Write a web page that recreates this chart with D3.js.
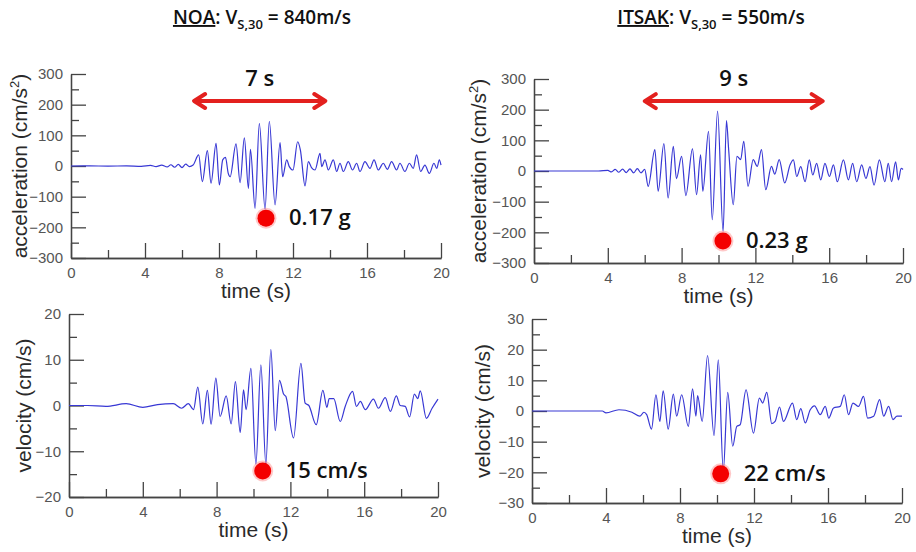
<!DOCTYPE html>
<html>
<head>
<meta charset="utf-8">
<script src="https://cdn.jsdelivr.net/npm/d3@7"></script>
<style>
  body { margin: 0; background: #fff; }
  svg { display: block; }
</style>
</head>
<body>
<div id="svgContainer"></div>
<script>
// time ticks shared by all panels
var timeTicks = [0, 4, 8, 12, 16, 20]
var timeMinor = [2, 6, 10, 14, 18]
var accTicks = [-300, -200, -100, 0, 100, 200, 300]
var accMinor = [-250, -150, -50, 50, 150, 250]
var noaVelTicks = [-20, -10, 0, 10, 20]
var noaVelMinor = [-15, -5, 5, 15]
var itsakVelTicks = [-30, -20, -10, 0, 10, 20, 30]
var itsakVelMinor = [-25, -15, -5, 5, 15, 25]

// [time (s), value]
var noaAcc = [[0,0],[1,0.5],[2,-0.5],[3,0.5],[3.8,-1],[4.3,2],[4.6,-2],[4.9,3],[5.2,-3],[5.4,4],[5.6,-4],[5.8,5],[6.0,-5],[6.2,6],[6.4,-2],[6.6,3],
  [6.9,36],[7.1,-51],[7.37,50],[7.57,-56],[7.84,74],[8.02,-62],[8.2,20],[8.35,28],[8.5,-24],[8.6,-35],[8.92,72],[9.14,-54],[9.37,92],[9.59,-73],
  [9.7,54],[9.95,-138],[10.18,139],[10.49,-141],[10.72,146],[11.03,-127],[11.3,76],[11.44,-35],[11.66,20],[11.8,-2],[12.0,-13],[12.25,79],[12.4,52],
  [12.65,-65],[12.83,14],[13.0,-5],[13.19,-13],[13.46,41],[13.55,-2],[13.73,20],[13.91,-13],[14.18,20],[14.36,-18],[14.54,9],[14.72,-18],[14.99,14],
  [15.22,-13],[15.44,9],[15.62,-18],[15.89,14],[16.16,-8],[16.38,20],[16.61,-13],[16.88,9],[17.1,-11],[17.33,14],[17.6,-13],[17.78,9],[18.05,-18],
  [18.29,9],[18.5,-8],[18.68,36],[18.9,-18],[19.13,3],[19.37,-24],[19.62,9],[19.77,-8],[19.91,20],[20,3]]

var itsakAcc = [[0,0],[2,0],[3.5,0],[4,2],[4.2,-3],[4.4,5],[4.6,-4],[4.8,6],[5.0,-5],[5.2,7],[5.4,-6],[5.6,8],[5.8,-6],[6.0,5],
  [6.19,-50],[6.55,70],[6.73,-66],[7.04,89],[7.27,-88],[7.55,80],[7.72,-25],[8.0,48],[8.23,-80],[8.59,72],[8.81,-77],[9.03,53],[9.15,-66],
  [9.46,129],[9.66,-159],[9.95,195],[10.25,-197],[10.43,164],[10.55,70],[10.8,-110],[11.0,48],[11.2,37],[11.37,97],[11.6,-50],[11.88,37],
  [12.1,15],[12.33,70],[12.56,-61],[12.87,15],[13.05,-10],[13.29,37],[13.59,-39],[13.88,20],[14.06,36],[14.24,-18],[14.46,14],[14.69,-35],
  [14.92,36],[15.11,-13],[15.32,25],[15.54,-29],[15.77,25],[16.01,-18],[16.23,20],[16.44,-35],[16.77,36],[17.04,-29],[17.27,25],[17.49,-35],
  [17.76,20],[17.99,-24],[18.21,14],[18.43,-46],[18.72,36],[19.02,-35],[19.2,25],[19.38,-35],[19.6,30],[19.75,-29],[19.9,9],[20,5]]

var noaVel = [[0,0],[1,0],[2,-0.2],[3.1,0.4],[4.0,-0.4],[4.8,0.2],[5.65,0.4],[6.1,-0.6],[6.47,0.4],[6.75,-0.9],[6.98,4.0],[7.25,-4.0],
  [7.5,3.3],[7.7,-4.1],[7.96,6.0],[8.19,-2.4],[8.52,2.1],[8.79,-4.0],[9.02,5.2],[9.28,-5.9],[9.46,3.4],[9.6,-0.9],[9.86,8.1],[10.13,-12.8],
  [10.4,8.9],[10.67,-12.8],[10.94,12.3],[11.18,-5.5],[11.41,5.5],[11.63,2.5],[11.75,2.0],[12.17,-7.1],[12.57,9.2],[12.8,0.5],[13.0,0],
  [13.4,-4.2],[13.76,3.3],[13.98,-0.4],[14.1,1.5],[14.35,1.5],[14.7,-3.5],[14.97,-0.2],[15.37,3.1],[15.58,-0.2],[15.79,0.9],[16.06,-0.9],
  [16.5,1.4],[16.77,-0.6],[17.14,1.7],[17.42,-1.3],[17.74,2.1],[17.95,0],[18.22,-0.2],[18.46,-2.5],[18.72,2.5],[18.9,1.5],[19.04,3.2],
  [19.37,-2.8],[19.68,-0.6],[20,1.4]]

var itsakVel = [[0,0],[2,0],[3.8,0],[4.0,-0.6],[4.7,0.4],[5.4,-0.4],[5.83,-1.7],[6.05,-0.4],[6.2,-1.2],[6.46,-5.9],[6.7,5.3],[6.91,-3.4],
  [7.09,6.6],[7.36,-5.9],[7.64,5.5],[7.82,-1.7],[8.09,5.3],[8.45,-5.0],[8.68,7.2],[8.86,-1.7],[8.95,5.0],[9.2,-3.4],[9.49,18.1],[9.84,-8.0],
  [10.07,16.7],[10.34,-19.5],[10.58,6.1],[10.85,-11.5],[11.07,-5],[11.25,-4.5],[11.57,6.9],[11.97,-7.2],[12.29,4.2],[12.47,2.6],[12.69,6.1],
  [12.96,-4.1],[13.14,-3.4],[13.38,1.3],[13.59,-3.4],[14.08,2.6],[14.31,-2.8],[14.53,0.8],[14.77,-3.9],[15.04,0.4],[15.27,1.7],[15.58,-1.2],
  [15.85,1.5],[16.04,-2.3],[16.3,1],[16.66,1.5],[16.88,5.3],[17.11,-1.2],[17.35,2.6],[17.65,1.5],[17.92,4.8],[18.14,-2.3],[18.47,-1.7],
  [18.79,3.7],[19.01,-1.7],[19.28,1.5],[19.51,-2.8],[19.73,-1.7],[20,-1.7]]

// annotations: duration arrows [from, to, level] and peak markers [time, value]
var noaDuration = [6.6, 13.8, 212], noaDurationLabel = "7 s"
var itsakDuration = [5.95, 15.7, 228], itsakDurationLabel = "9 s"
var noaAccPeak = [10.54, -170], noaAccLabel = "0.17 g"
var itsakAccPeak = [10.24, -228], itsakAccLabel = "0.23 g"
var noaVelPeak = [10.5, -14.3], noaVelLabel = "15 cm/s"
var itsakVelPeak = [10.2, -20.5], itsakVelLabel = "22 cm/s"

var width = 916, height = 552
var svg = d3.select("#svgContainer").append("svg")
    .attr("width", width).attr("height", height)
    .style("font-family", "'Liberation Sans', Arial, sans-serif")

function title(cx, station, vs) {
    var t = svg.append("text")
        .attr("x", cx).attr("y", 24)
        .attr("text-anchor", "middle")
        .style("font-family", "'Open Sans', sans-serif")
        .style("font-size", "19px")
        .style("font-weight", 600)
        .style("fill", "#111")
    t.append("tspan").style("text-decoration", "underline").text(station)
    t.append("tspan").text(": V")
    t.append("tspan").attr("dy", 5).style("font-size", "13px").text("S,30")
    t.append("tspan").attr("dy", -5).text(" = " + vs)
}
title(262, "NOA", "840m/s")
title(711, "ITSAK", "550m/s")

function panel(cfg) {
    var x = d3.scaleLinear().domain([0, 20]).range([cfg.x0, cfg.x1])
    var y = d3.scaleLinear().domain(cfg.domain).range([cfg.y1, cfg.y0])
    var g = svg.append("g")

    // minor ticks
    g.append("g").attr("transform", `translate(${cfg.x0},0)`)
        .call(d3.axisLeft(y).tickValues(cfg.minor).tickSize(-8).tickSizeOuter(0).tickFormat(""))
    g.append("g").attr("transform", `translate(0,${cfg.y1})`)
        .call(d3.axisBottom(x).tickValues(timeMinor).tickSize(-8).tickSizeOuter(0).tickFormat(""))
    // major ticks + labels
    g.append("g").attr("transform", `translate(${cfg.x0},0)`)
        .call(d3.axisLeft(y).tickValues(cfg.ticks).tickSize(-15).tickSizeOuter(0).tickPadding(8))
    g.append("g").attr("transform", `translate(0,${cfg.y1})`)
        .call(d3.axisBottom(x).tickValues(timeTicks).tickSize(-15).tickSizeOuter(0).tickPadding(9))
    g.selectAll(".domain, .tick line").attr("stroke", "#444").attr("stroke-width", 1.3)
    g.selectAll(".tick text").style("font-size", "15px").style("fill", "#555")
        .style("font-family", "'Liberation Sans', Arial, sans-serif")

    // axis titles
    var yl = g.append("text")
        .attr("transform", `translate(${cfg.x0 - cfg.ylabelGap},${(cfg.y0 + cfg.y1) / 2}) rotate(-90)`)
        .attr("text-anchor", "middle")
        .style("font-size", "21px").style("fill", "#2a2a2a")
    yl.append("tspan").text(cfg.ylabel)
    if (cfg.sup) {
        yl.append("tspan").attr("dy", -8).style("font-size", "13px").text(cfg.sup)
        yl.append("tspan").attr("dy", 8).text(")")
    }
    g.append("text")
        .attr("x", (cfg.x0 + cfg.x1) / 2).attr("y", cfg.y1 + 40)
        .attr("text-anchor", "middle")
        .style("font-size", "21px").style("fill", "#2a2a2a")
        .text("time (s)")

    // record
    g.append("path")
        .datum(cfg.data)
        .attr("fill", "none")
        .attr("stroke", "#3838d4")
        .attr("stroke-width", 1.2)
        .attr("stroke-linejoin", "round")
        .attr("d", d3.line().x(d => x(d[0])).y(d => y(d[1])).curve(d3.curveMonotoneX))

    // duration arrow
    if (cfg.arrow) {
        var a = cfg.arrow, ay = y(a[2]), xl = x(a[0]), xr = x(a[1])
        g.append("line").attr("x1", xl + 2).attr("x2", xr - 2).attr("y1", ay).attr("y2", ay)
            .attr("stroke", "#e3201e").attr("stroke-width", 4)
        g.append("path")
            .attr("d", `M${xl + 12},${ay - 7}L${xl + 1},${ay}L${xl + 12},${ay + 7}M${xr - 12},${ay - 7}L${xr - 1},${ay}L${xr - 12},${ay + 7}`)
            .attr("fill", "none").attr("stroke", "#e3201e").attr("stroke-width", 4)
            .attr("stroke-linecap", "round").attr("stroke-linejoin", "round")
        g.append("text")
            .attr("x", (xl + xr) / 2).attr("y", ay - 15)
            .attr("text-anchor", "middle")
            .style("font-family", "'Open Sans', sans-serif")
            .style("font-size", "22px").style("font-weight", 600).style("fill", "#111")
            .text(cfg.arrowLabel)
    }

    // peak marker
    var px = x(cfg.peak[0]), py = y(cfg.peak[1])
    g.append("circle").attr("cx", px).attr("cy", py).attr("r", 10.5)
        .attr("fill", "#ff6060").attr("opacity", 0.35)
    g.append("circle").attr("cx", px).attr("cy", py).attr("r", 8.5)
        .attr("fill", "#f40000")
    g.append("text")
        .attr("x", px + 23).attr("y", py + 7)
        .style("font-family", "'Open Sans', sans-serif")
        .style("font-size", "22px").style("font-weight", 600).style("fill", "#111")
        .text(cfg.peakLabel)
}

panel({ x0: 71, x1: 441, y0: 74, y1: 258, domain: [-300, 300], ticks: accTicks, minor: accMinor,
    ylabel: "acceleration (cm/s", sup: "2", ylabelGap: 44, data: noaAcc,
    arrow: noaDuration, arrowLabel: noaDurationLabel, peak: noaAccPeak, peakLabel: noaAccLabel })
panel({ x0: 534, x1: 903, y0: 79, y1: 263, domain: [-300, 300], ticks: accTicks, minor: accMinor,
    ylabel: "acceleration (cm/s", sup: "2", ylabelGap: 48, data: itsakAcc,
    arrow: itsakDuration, arrowLabel: itsakDurationLabel, peak: itsakAccPeak, peakLabel: itsakAccLabel })
panel({ x0: 69, x1: 438, y0: 314, y1: 497, domain: [-20, 20], ticks: noaVelTicks, minor: noaVelMinor,
    ylabel: "velocity (cm/s)", ylabelGap: 38, data: noaVel, peak: noaVelPeak, peakLabel: noaVelLabel })
panel({ x0: 532, x1: 902, y0: 319, y1: 503, domain: [-30, 30], ticks: itsakVelTicks, minor: itsakVelMinor,
    ylabel: "velocity (cm/s)", ylabelGap: 42, data: itsakVel, peak: itsakVelPeak, peakLabel: itsakVelLabel })
</script>
</body>
</html>
